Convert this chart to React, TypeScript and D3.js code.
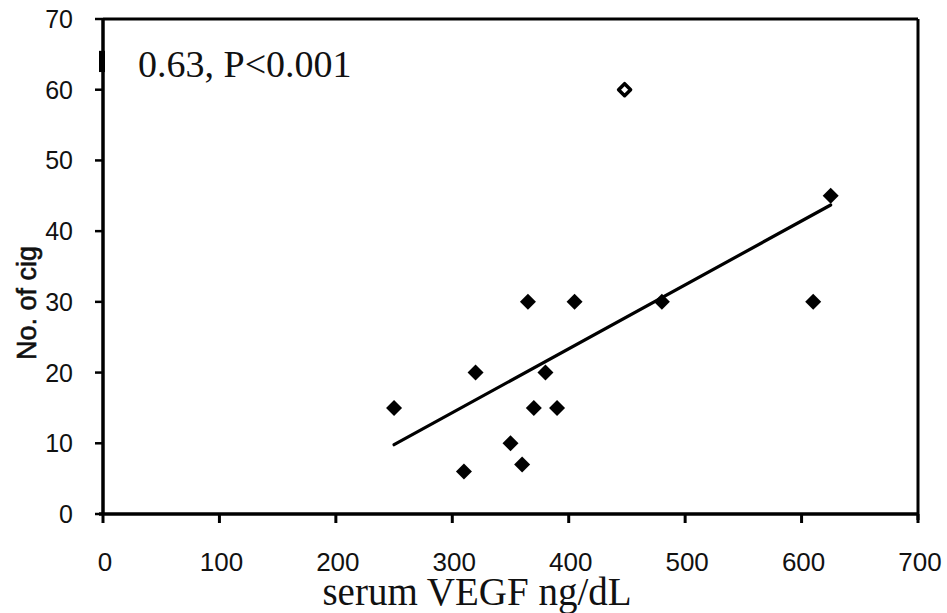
import React from "react";
import * as d3 from "d3";

const W = 947;
const H = 613;

const xTicks = [0, 100, 200, 300, 400, 500, 600, 700];
const yTicks = [0, 10, 20, 30, 40, 50, 60, 70];

const vegf = [250, 310, 320, 350, 360, 365, 370, 380, 390, 405, 480, 610, 625];
const cigs = [15, 6, 20, 10, 7, 30, 15, 20, 15, 30, 30, 30, 45];

const outlierVegf = [448];
const outlierCigs = [60];

const fitX = [250, 625];
const fitY = [9.8, 43.7];

const annotation = "0.63, P<0.001";
const xTitle = "serum VEGF ng/dL";
const yTitle = "No. of cig";

export default function App() {
  const left = 103, right = 918, top = 19, bottom = 514;
  const x = d3.scaleLinear().domain([0, 700]).range([left, right]);
  const y = d3.scaleLinear().domain([0, 70]).range([bottom, top]);
  const r = 8;
  const diamond = (cx: number, cy: number, s: number) =>
    `M${cx},${cy - s}L${cx + s},${cy}L${cx},${cy + s}L${cx - s},${cy}Z`;
  const line = d3.line<number>().x((d) => x(fitX[d])).y((d) => y(fitY[d]));
  const sans = "'Liberation Sans', Arial, sans-serif";
  const serif = "'Liberation Serif', 'Times New Roman', serif";

  return (
    <svg
      width={W}
      height={H}
      style={{ position: "absolute", left: 0, top: 0, background: "#fff" }}
    >
      <rect x={0} y={0} width={W} height={H} fill="#fff" />
      {/* frame */}
      <line x1={left} x2={right} y1={top} y2={top} stroke="#000" strokeWidth={3} />
      <line x1={right} x2={right} y1={top} y2={bottom + 6} stroke="#000" strokeWidth={3} />
      <line x1={left} x2={left} y1={top - 1} y2={bottom + 1} stroke="#000" strokeWidth={3.5} />
      <line x1={left - 4} x2={right + 1} y1={bottom} y2={bottom} stroke="#000" strokeWidth={3.5} />
      {/* small mark on axis */}
      <line x1={left - 1} x2={left - 1} y1={y(65.5)} y2={y(62.5)} stroke="#000" strokeWidth={6} />
      {/* y ticks */}
      {yTicks.map((t) => (
        <g key={"y" + t}>
          <line x1={left - 8} x2={left} y1={y(t)} y2={y(t)} stroke="#000" strokeWidth={2.5} />
          <text
            x={73}
            y={y(t)}
            textAnchor="end"
            dominantBaseline="central"
            fontFamily={sans}
            fontSize={25}
            fill="#111"
          >
            {t}
          </text>
        </g>
      ))}
      {/* x ticks */}
      {xTicks.map((t) => (
        <g key={"x" + t}>
          <line x1={x(t)} x2={x(t)} y1={bottom} y2={bottom + 9} stroke="#000" strokeWidth={3} />
          <text
            x={x(t) + 2}
            y={571}
            textAnchor="middle"
            fontFamily={sans}
            fontSize={26}
            fill="#111"
          >
            {t}
          </text>
        </g>
      ))}
      {/* regression line */}
      <path d={line([0, 1]) || ""} stroke="#000" strokeWidth={3.2} fill="none" strokeLinecap="round" />
      {/* points */}
      {vegf.map((v, i) => (
        <path key={"p" + i} d={diamond(x(v), y(cigs[i]), r)} fill="#000" />
      ))}
      {outlierVegf.map((v, i) => (
        <path
          key={"o" + i}
          d={diamond(x(v), y(outlierCigs[i]), 6)}
          fill="#fff"
          stroke="#000"
          strokeWidth={3.5}
          strokeLinejoin="round"
        />
      ))}
      {/* annotation */}
      <text x={138} y={77} fontFamily={serif} fontSize={38} fill="#111">
        {annotation}
      </text>
      {/* axis titles */}
      <text
        x={477}
        y={605}
        textAnchor="middle"
        fontFamily={serif}
        fontSize={39}
        fill="#111"
      >
        {xTitle}
      </text>
      <text
        transform={`translate(36,303) rotate(-90)`}
        textAnchor="middle"
        fontFamily={sans}
        fontSize={27}
        fill="#111"
        stroke="#111"
        strokeWidth={0.6}
      >
        {yTitle}
      </text>
    </svg>
  );
}
